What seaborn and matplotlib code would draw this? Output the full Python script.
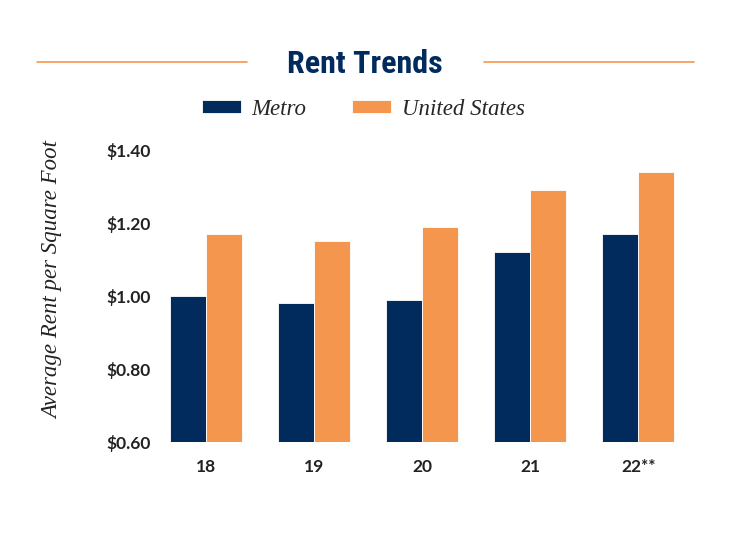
import matplotlib
matplotlib.use("Agg")
import matplotlib.pyplot as plt
from matplotlib.lines import Line2D
import pandas as pd
import seaborn as sns

# values
years = ["18", "19", "20", "21", "22**"]
metro = [1.00, 0.98, 0.99, 1.12, 1.17]
united_states = [1.17, 1.15, 1.19, 1.29, 1.34]
series_names = ["Metro", "United States"]
yticks = [0.60, 0.80, 1.00, 1.20, 1.40]

navy = "#002b5c"
orange = "#f5964f"

df = pd.DataFrame({
    "year": years * 2,
    "rent": metro + united_states,
    "series": [series_names[0]] * len(years) + [series_names[1]] * len(years),
})

sns.set_theme(style="white")
plt.rcParams["font.family"] = ["Lato", "DejaVu Sans"]

fig = plt.figure(figsize=(7.34, 5.39), dpi=100)
ax = fig.add_axes([0.207, 0.180, 0.736, 0.542])

sns.barplot(data=df, x="year", y="rent", hue="series", order=years,
            hue_order=series_names, palette=[navy, orange], saturation=1,
            width=0.67, edgecolor="white", linewidth=0.6, ax=ax)

ax.set_ylim(0.60, 1.40)
ax.set_xlim(-0.5, len(years) - 0.5)
ax.set_yticks(yticks)
ax.set_yticklabels([f"${v:.2f}" for v in yticks], fontsize=12.5,
                   fontweight="bold", color="#222222")
for lab in ax.get_xticklabels():
    lab.set_fontweight("bold")
ax.tick_params(axis="x", labelsize=12.5, labelcolor="#222222", pad=12, length=0)
ax.tick_params(axis="y", length=0, pad=1)
ax.set_xlabel("")
ax.set_ylabel("Average Rent per Square Foot", fontsize=16.5, style="italic",
              family="Liberation Serif", color="#222222")
ax.yaxis.set_label_coords(-0.165, 0.555)
sns.despine(ax=ax, left=True, bottom=True)

# legend above the plot
handles, labels = ax.get_legend_handles_labels()
ax.get_legend().remove()
fig.legend(handles, labels, loc="center", bbox_to_anchor=(0.495, 0.797),
           ncol=2, frameon=False, handlelength=1.7, handleheight=0.5,
           columnspacing=2.0, handletextpad=0.45,
           prop={"family": "Liberation Serif", "style": "italic", "size": 16.5})

# title with orange rules on both sides
fig.text(0.497, 0.882, "Rent Trends", ha="center", va="center", fontsize=23,
         fontweight="bold", color=navy,
         family=["Roboto Condensed", "Liberation Sans Narrow", "Roboto"])
fig.add_artist(Line2D([37 / 734, 247 / 734], [0.885, 0.885], color=orange, lw=1.2))
fig.add_artist(Line2D([484 / 734, 694 / 734], [0.885, 0.885], color=orange, lw=1.2))

fig.savefig("out.png", dpi=100)
